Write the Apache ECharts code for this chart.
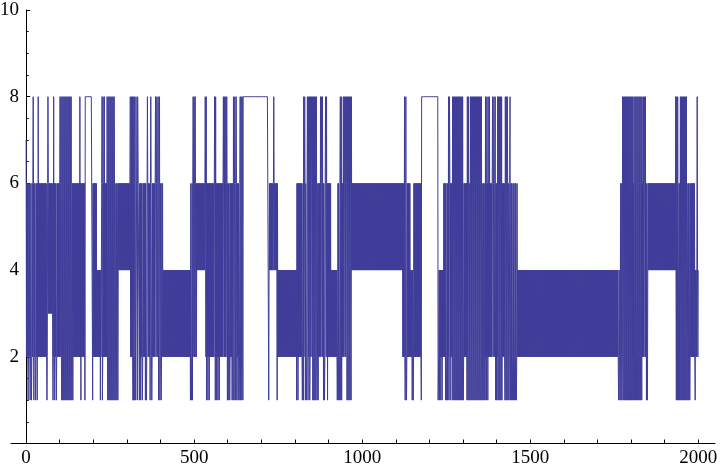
<!DOCTYPE html>
<html>
<head>
<meta charset="utf-8">
<script src="https://cdn.jsdelivr.net/npm/echarts@6/dist/echarts.min.js"></script>
<style>html,body{margin:0;padding:0;background:#fff}#c{width:720px;height:470px}</style>
</head>
<body>
<div id="c"></div>
<script>
// Base bands: from bandStart[i] up to the next start,
// the sequence alternates bandA[i], bandB[i], bandA[i], ...
const bandStart = [0, 1, 67, 79, 176, 198, 211, 224, 270, 311, 323, 337, 407, 489, 509, 533, 646, 722, 723, 749,
                   805, 907, 925, 969, 1121, 1143, 1151, 1177, 1226, 1242, 1462, 1766, 1850, 1970, 1991];
const bandA     = [7, 2, 3, 2, 8, 2, 2, 2, 4, 2, 8, 2, 2, 2, 4, 2, 8, 1, 4, 2,
                   2, 2, 2, 4, 2, 2, 2, 8, 2, 2, 2, 2, 4, 2, 2];
const bandB     = [7, 6, 6, 6, 8, 6, 4, 6, 6, 6, 8, 6, 4, 6, 6, 6, 8, 1, 6, 4,
                   6, 4, 6, 6, 6, 4, 6, 8, 4, 6, 4, 6, 6, 6, 4];
// Single-step excursions
const spikeHighLevel = 8;
const spikeHighX = [
  21,36,65,82,101,104,107,110,113,116,119,122,125,128,131,134,160,226,229,233,241,244,247,250,253,256,259,262,310,314,
  316,319,361,371,385,389,393,397,
  497,500,503,533,536,561,564,587,590,594,597,617,621,625,637,640,643,
  737,
  826,829,837,840,843,846,849,852,855,858,861,864,876,879,882,891,894,935,938,944,947,950,953,956,959,962,965,968,
  1126,1130,
  1257,1260,1269,1272,1275,1278,1281,1284,1287,1290,1293,1296,1299,1313,1316,1322,1325,1328,1331,1334,1337,1340,1343,1346,1349,1352,1355,1367,1371,1375,1379,1388,1392,1396,1403,1406,1409,1412,1415,1426,1429,1432,1440,
  1775,1778,1781,1784,1787,1790,1793,1796,1799,1802,1805,1809,1812,1815,1818,1821,1824,1827,1830,1833,1837,1840,1843,
  1933,1936,1939,1947,1950,1953,1956,1959,1962,1965,1997
];
const spikeLowLevel = 1;
const spikeLowX = [
  6,12,16,23,28,33,62,80,85,90,106,109,112,115,118,121,124,127,130,133,136,139,163,175,198,221,227,243,246,249,252,255,258,261,264,267,270,273,320,326,331,
  318,322,337,341,346,355,358,369,374,394,398,402,
  489,492,495,537,541,545,563,567,571,575,599,603,606,613,616,619,623,627,631,634,638,642,645,
  747,
  805,809,822,825,831,834,839,844,853,856,859,862,866,869,885,888,897,926,929,932,936,939,955,958,961,964,967,
  1128,1132,1149,1152,1176,
  1226,1227,1230,1234,1238,1248,1251,1254,1258,1262,1268,1271,1274,1277,1280,1283,1286,1289,1292,1295,1298,1301,1312,1315,1318,1321,1324,1327,1330,1333,1336,1339,1342,1345,1348,1351,1354,1357,1360,1363,1366,1370,1374,1397,1400,1404,1407,1410,1413,1416,1425,1428,1431,1434,1437,1441,1444,1447,1450,1453,1456,1459,
  1763,1767,1770,1773,1777,1780,1783,1786,1789,1792,1795,1798,1801,1804,1808,1811,1814,1817,1820,1823,1826,1829,1832,1846,1849,
  1935,1938,1941,1944,1948,1951,1954,1957,1960,1963,1966,1969,1972,1975,1991
];
const lastX = 2000;
const xLabels = [0, 500, 1000, 1500, 2000];
const xTickValues = [0,100,200,300,400,500,600,700,800,900,1000,1100,1200,1300,1400,1500,1600,1700,1800,1900,2000];
const yLabels = [2, 4, 6, 8, 10];

const values = [];
for (let i = 0; i < bandStart.length; i++) {
  const s = bandStart[i];
  const e = i + 1 < bandStart.length ? bandStart[i + 1] - 1 : lastX;
  for (let x = s; x <= e; x++) values[x] = ((x - s) % 2 === 0) ? bandA[i] : bandB[i];
}
spikeHighX.forEach(x => { values[x] = spikeHighLevel; });
spikeLowX.forEach(x => { values[x] = spikeLowLevel; });
const points = values.map((v, x) => [x, v]);

const font = 'Liberation Serif';
const chart = echarts.init(document.getElementById('c'), null, {renderer: 'canvas'});
chart.setOption({
  animation: false,
  backgroundColor: '#ffffff',
  grid: {left: 11, right: 5, top: 10, bottom: 26.5, containLabel: false, outerBoundsMode: 'none'},
  xAxis: {
    type: 'value', min: -45, max: 2050,
    axisLine: {show: true, onZero: true, lineStyle: {color: '#000', width: 1}},
    axisTick: {show: true, inside: true, length: 4, customValues: xTickValues, lineStyle: {color: '#000'}},
    axisLabel: {show: true, customValues: xLabels, margin: 5, color: '#000', fontFamily: font, fontSize: 19,
      formatter: v => String(v)},
    splitLine: {show: false}
  },
  yAxis: {
    type: 'value', min: 0, max: 10, interval: 2,
    axisLine: {show: true, onZero: true, lineStyle: {color: '#000', width: 1}},
    axisTick: {show: true, inside: true, length: 4, lineStyle: {color: '#000'}},
    minorTick: {show: true, splitNumber: 4, length: 2.5, lineStyle: {color: '#000'}},
    axisLabel: {show: true, margin: -8, color: '#000', fontFamily: font, fontSize: 19,
      formatter: v => (yLabels.indexOf(v) >= 0 ? String(v) : '')},
    splitLine: {show: false}
  },
  series: [{
    type: 'line', data: points, showSymbol: false, symbol: 'none',
    lineStyle: {color: '#3f3d99', width: 1},
    sampling: null, clip: true
  }]
});
</script>
</body>
</html>
